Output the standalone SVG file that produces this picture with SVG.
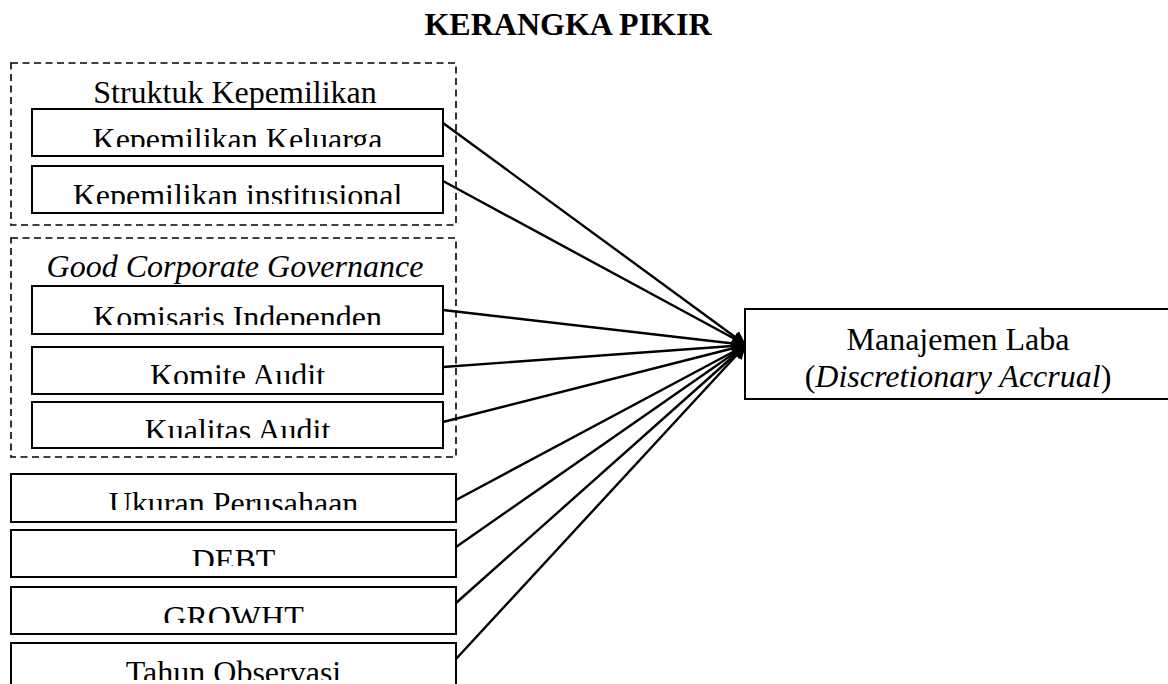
<svg xmlns="http://www.w3.org/2000/svg" width="1168" height="684" viewBox="0 0 1168 684">
<style>
  text { font-family: "Liberation Serif", "Times New Roman", serif; font-size: 32px; fill: #000; text-anchor: middle; }
  .title { font-weight: bold; }
  .it { font-style: italic; }
  .box { fill: #fff; stroke: #000; stroke-width: 2; }
  .dash { fill: none; stroke: #000; stroke-width: 1.6; stroke-dasharray: 7 4.5; }
  .conn { stroke: #000; stroke-width: 2.4; fill: none; marker-end: url(#arr); }
</style>
<defs>
  <marker id="arr" markerUnits="userSpaceOnUse" markerWidth="16" markerHeight="16" refX="14" refY="8" orient="auto">
    <path d="M0,1 L14,8 L0,15 Z" fill="#000"/>
  </marker>
  <clipPath id="c1"><rect x="33" y="110" width="410" height="37"/></clipPath>
  <clipPath id="c2"><rect x="33" y="167" width="410" height="37"/></clipPath>
  <clipPath id="c3"><rect x="33" y="287" width="410" height="38"/></clipPath>
  <clipPath id="c4"><rect x="33" y="348" width="410" height="36"/></clipPath>
  <clipPath id="c5"><rect x="33" y="403" width="410" height="35"/></clipPath>
  <clipPath id="c6"><rect x="12" y="475" width="444" height="35"/></clipPath>
  <clipPath id="c7"><rect x="12" y="531" width="444" height="35"/></clipPath>
  <clipPath id="c8"><rect x="12" y="588" width="444" height="35"/></clipPath>
  <clipPath id="c9"><rect x="12" y="644" width="444" height="36"/></clipPath>
</defs>
<rect width="1168" height="684" fill="#fff"/>

<text id="title" class="title" x="568" y="35">KERANGKA PIKIR</text>

<g id="group-struktur">
  <rect class="dash" x="11" y="63" width="445" height="162"/>
  <text x="235" y="103">Struktuk Kepemilikan</text>
</g>
<g id="group-gcg">
  <rect class="dash" x="11" y="238" width="445" height="219"/>
  <text class="it" x="235" y="277">Good Corporate Governance</text>
</g>

<g id="connectors">
  <line class="conn" x1="443" y1="123" x2="746" y2="345"/>
  <line class="conn" x1="443" y1="181" x2="746" y2="345"/>
  <line class="conn" x1="443" y1="310" x2="746" y2="345"/>
  <line class="conn" x1="443" y1="367" x2="746" y2="345"/>
  <line class="conn" x1="443" y1="422" x2="746" y2="345"/>
  <line class="conn" x1="456" y1="500" x2="746" y2="345"/>
  <line class="conn" x1="456" y1="547" x2="746" y2="345"/>
  <line class="conn" x1="456" y1="603" x2="746" y2="345"/>
  <line class="conn" x1="456" y1="659" x2="746" y2="345"/>
</g>

<g id="n-keluarga">
  <rect class="box" x="32" y="109" width="411" height="47"/>
  <text x="237.5" y="150" clip-path="url(#c1)">Kepemilikan Keluarga</text>
</g>
<g id="n-institusional">
  <rect class="box" x="32" y="166" width="411" height="47"/>
  <text x="237.5" y="206" clip-path="url(#c2)">Kepemilikan institusional</text>
</g>
<g id="n-komisaris">
  <rect class="box" x="32" y="286" width="411" height="48"/>
  <text x="237.5" y="328" clip-path="url(#c3)">Komisaris Independen</text>
</g>
<g id="n-komite">
  <rect class="box" x="32" y="347" width="411" height="47"/>
  <text x="237.5" y="386" clip-path="url(#c4)">Komite Audit</text>
</g>
<g id="n-kualitas">
  <rect class="box" x="32" y="402" width="411" height="46"/>
  <text x="237.5" y="441" clip-path="url(#c5)">Kualitas Audit</text>
</g>
<g id="n-ukuran">
  <rect class="box" x="11" y="474" width="445" height="48"/>
  <text x="233.5" y="514" clip-path="url(#c6)">Ukuran Perusahaan</text>
</g>
<g id="n-debt">
  <rect class="box" x="11" y="530" width="445" height="47"/>
  <text x="233.5" y="571" clip-path="url(#c7)">DEBT</text>
</g>
<g id="n-growht">
  <rect class="box" x="11" y="587" width="445" height="47"/>
  <text x="233.5" y="628" clip-path="url(#c8)">GROWHT</text>
</g>
<g id="n-tahun">
  <rect class="box" x="11" y="643" width="445" height="60"/>
  <text x="233.5" y="683" clip-path="url(#c9)">Tahun Observasi</text>
</g>

<g id="n-manajemen">
  <rect class="box" x="745" y="309" width="500" height="90"/>
  <text x="958" y="350">Manajemen Laba</text>
  <text x="958" y="387">(<tspan class="it">Discretionary Accrual</tspan>)</text>
</g>
</svg>
